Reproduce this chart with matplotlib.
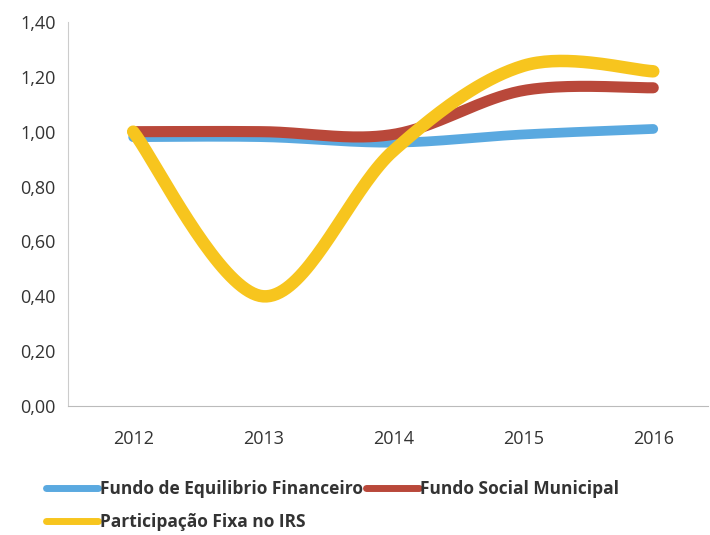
import numpy as np
import matplotlib.pyplot as plt
from matplotlib.ticker import FuncFormatter

years = ['2012', '2013', '2014', '2015', '2016']
equilibrio = [0.98, 0.98, 0.96, 0.99, 1.01]
social = [1.00, 1.00, 0.99, 1.15, 1.16]
irs = [1.00, 0.40, 0.93, 1.24, 1.22]


def smooth(xs, ys, n=40):
    # excel-like smoothed line: cubic bezier segments, tangent from neighbours
    xs = np.asarray(xs, float)
    ys = np.asarray(ys, float)
    px, py = [], []
    for i in range(len(xs) - 1):
        x0, y0 = xs[i], ys[i]
        x3, y3 = xs[i + 1], ys[i + 1]
        xa, ya = (xs[i - 1], ys[i - 1]) if i > 0 else (x0, y0)
        xb, yb = (xs[i + 2], ys[i + 2]) if i + 2 < len(xs) else (x3, y3)
        x1, y1 = x0 + (x3 - xa) / 6, y0 + (y3 - ya) / 6
        x2, y2 = x3 - (xb - x0) / 6, y3 - (yb - y0) / 6
        t = np.linspace(0, 1, n)
        px.append((1-t)**3*x0 + 3*(1-t)**2*t*x1 + 3*(1-t)*t**2*x2 + t**3*x3)
        py.append((1-t)**3*y0 + 3*(1-t)**2*t*y1 + 3*(1-t)*t**2*y2 + t**3*y3)
    return np.concatenate(px), np.concatenate(py)


plt.rcParams['font.family'] = ['Open Sans', 'DejaVu Sans']

fig = plt.figure(figsize=(7.1, 5.35), dpi=100)
ax = fig.add_axes([0.096, 0.241, 0.901, 0.718])

x = np.arange(len(years))
series = [
    (equilibrio, '#5aa9e0', 7, 'Fundo de Equilibrio Financeiro'),
    (social, '#b9483a', 8, 'Fundo Social Municipal'),
    (irs, '#f7c51e', 9, 'Participação Fixa no IRS'),
]
handles = {}
for ys, c, lw, lab in series:
    sx, sy = smooth(x, ys)
    h, = ax.plot(sx, sy, color=c, lw=lw, solid_capstyle='round', label=lab)
    handles[lab] = h

ax.set_xlim(-0.5, 4.42)
ax.set_ylim(0, 1.40)
ax.set_yticks(np.arange(0, 1.41, 0.2))
ax.yaxis.set_major_formatter(FuncFormatter(lambda v, p: f'{v:.2f}'.replace('.', ',')))
ax.set_xticks(x)
ax.set_xticklabels(years)
ax.tick_params(length=0, labelsize=13, colors='#333333')
ax.tick_params(axis='x', pad=17)
ax.tick_params(axis='y', pad=9)
for s in ['top', 'right']:
    ax.spines[s].set_visible(False)
ax.spines['left'].set_color('#cccccc')
ax.spines['bottom'].set_color('#bbbbbb')

order = ['Fundo de Equilibrio Financeiro', 'Participação Fixa no IRS', 'Fundo Social Municipal']
leg = fig.legend([handles[k] for k in order], order, ncol=2, loc='upper left',
                 bbox_to_anchor=(0.043, 0.132), frameon=False, handlelength=3.0,
                 columnspacing=0.2, handletextpad=0.1, labelspacing=0.85,
                 prop={'size': 12.5, 'weight': 'bold'})
for t in leg.get_texts():
    t.set_color('#333333')
for l in leg.get_lines():
    l.set_linewidth(5)

fig.savefig('out.png', dpi=100)
